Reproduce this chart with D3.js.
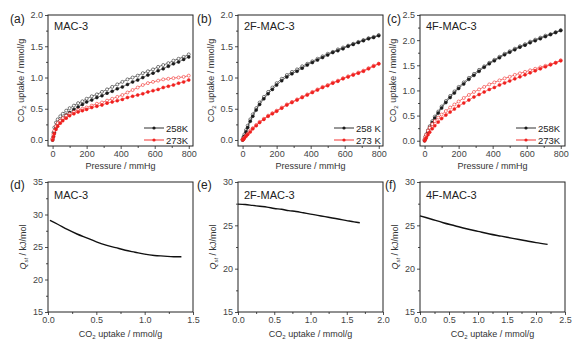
<!DOCTYPE html>
<html><head><meta charset="utf-8">
<script src="https://cdn.jsdelivr.net/npm/d3@7"></script>
<style>
html,body{margin:0;padding:0;background:#fff;}
svg{display:block;font-family:"Liberation Sans",Arial,sans-serif;}
</style></head>
<body>
<svg id="chart" width="582" height="346"></svg>
<script>
// ---------- DATA ----------
const pressure = [0,5,10,20,30,45,60,80,100,125,150,175,200,230,260,290,320,350,380,410,440,470,500,530,560,590,620,650,680,710,740,770,800];

const mac3_258_ads = [0.00,0.06,0.12,0.20,0.26,0.31,0.35,0.40,0.44,0.49,0.53,0.57,0.61,0.64,0.68,0.71,0.75,0.78,0.82,0.85,0.89,0.93,0.96,1.00,1.04,1.07,1.11,1.14,1.18,1.22,1.25,1.29,1.33];
const mac3_258_des = [0.02,0.12,0.20,0.28,0.33,0.38,0.42,0.47,0.51,0.55,0.59,0.62,0.66,0.70,0.73,0.77,0.81,0.85,0.89,0.93,0.97,1.00,1.03,1.07,1.10,1.13,1.17,1.20,1.23,1.27,1.30,1.33,1.37];
const mac3_273_ads = [0.00,0.05,0.10,0.17,0.22,0.27,0.31,0.35,0.39,0.42,0.45,0.47,0.49,0.52,0.54,0.56,0.59,0.61,0.63,0.65,0.68,0.70,0.72,0.74,0.77,0.79,0.81,0.84,0.86,0.88,0.91,0.93,0.96];
const mac3_273_des = [0.02,0.09,0.15,0.22,0.27,0.31,0.35,0.39,0.42,0.45,0.48,0.50,0.52,0.55,0.58,0.60,0.63,0.66,0.69,0.72,0.76,0.80,0.84,0.88,0.91,0.93,0.95,0.97,0.98,0.99,1.00,1.01,1.03];

const f2_258_ads = [0.00,0.03,0.06,0.13,0.20,0.30,0.38,0.48,0.57,0.66,0.74,0.81,0.88,0.95,1.01,1.06,1.10,1.15,1.20,1.24,1.28,1.32,1.36,1.40,1.43,1.46,1.50,1.53,1.56,1.59,1.62,1.64,1.67];
const f2_258_des = [0.01,0.05,0.09,0.16,0.23,0.33,0.41,0.51,0.60,0.69,0.77,0.84,0.91,0.98,1.04,1.09,1.13,1.18,1.22,1.26,1.30,1.34,1.38,1.41,1.45,1.48,1.51,1.54,1.57,1.60,1.63,1.65,1.68];
const f2_273_ads = [0.00,0.01,0.03,0.06,0.09,0.13,0.18,0.23,0.28,0.33,0.38,0.42,0.46,0.51,0.56,0.60,0.64,0.68,0.72,0.76,0.80,0.84,0.87,0.91,0.94,0.98,1.01,1.04,1.07,1.10,1.14,1.18,1.22];
const f2_273_des = [0.01,0.02,0.04,0.07,0.10,0.15,0.19,0.24,0.29,0.34,0.39,0.43,0.47,0.52,0.57,0.61,0.65,0.69,0.73,0.77,0.81,0.85,0.88,0.92,0.95,0.99,1.02,1.05,1.08,1.11,1.15,1.19,1.22];

const f4_258_ads = [0.00,0.05,0.10,0.18,0.26,0.36,0.45,0.55,0.65,0.76,0.86,0.95,1.04,1.13,1.22,1.30,1.38,1.46,1.53,1.59,1.65,1.71,1.76,1.81,1.86,1.90,1.95,1.99,2.03,2.07,2.11,2.15,2.19];
const f4_258_des = [0.02,0.08,0.13,0.21,0.29,0.39,0.48,0.58,0.68,0.79,0.89,0.98,1.07,1.16,1.25,1.33,1.41,1.48,1.55,1.61,1.67,1.73,1.78,1.83,1.88,1.92,1.97,2.01,2.05,2.09,2.12,2.16,2.20];
const f4_273_ads = [0.00,0.03,0.06,0.12,0.17,0.24,0.30,0.37,0.44,0.51,0.57,0.63,0.69,0.75,0.81,0.87,0.92,0.97,1.02,1.06,1.11,1.15,1.19,1.23,1.27,1.31,1.35,1.39,1.43,1.47,1.51,1.55,1.59];
const f4_273_des = [0.03,0.08,0.12,0.20,0.26,0.33,0.39,0.46,0.52,0.59,0.66,0.72,0.78,0.85,0.91,0.97,1.02,1.07,1.12,1.16,1.20,1.24,1.27,1.31,1.34,1.37,1.40,1.43,1.46,1.49,1.52,1.55,1.60];

const qst_mac3_x = [0.02,0.1,0.2,0.3,0.4,0.5,0.6,0.7,0.8,0.9,1.0,1.1,1.2,1.3,1.38];
const qst_mac3_y = [29.1,28.5,27.7,27.0,26.4,25.8,25.3,24.9,24.5,24.2,23.9,23.7,23.6,23.5,23.5];
const qst_f2_x = [0,0.1,0.2,0.3,0.4,0.5,0.6,0.7,0.8,0.9,1.0,1.1,1.2,1.3,1.4,1.5,1.6,1.68];
const qst_f2_y = [27.45,27.4,27.3,27.2,27.1,26.95,26.85,26.7,26.6,26.45,26.3,26.15,26.0,25.85,25.7,25.55,25.4,25.3];
const qst_f4_x = [0,0.2,0.4,0.6,0.8,1.0,1.2,1.4,1.6,1.8,2.0,2.2];
const qst_f4_y = [26.1,25.7,25.3,24.95,24.6,24.3,24.0,23.75,23.5,23.25,23.0,22.8];

const panelLabels = ["(a)","(b)","(c)","(d)","(e)","(f)"];
const sampleNames = ["MAC-3","2F-MAC-3","4F-MAC-3"];
const legendTexts = [["258K","273K"],["258 K","273 K"],["258K","273K"]];
const isoYMax = [2.0, 2.0, 2.5];
const isoYTicks = [[0,0.5,1.0,1.5,2.0],[0,0.5,1.0,1.5,2.0],[0,0.5,1.0,1.5,2.0,2.5]];
const isoXTicks = [0,200,400,600,800];
const qXMax = [1.5, 2.0, 2.5];
const qYRange = [[15,35],[15,30],[15,30]];

// ---------- LAYOUT ----------
const svg = d3.select("#chart");
const lefts = [48, 238, 420];
const W = 145;
const topRow = {y:15, h:131};
const botRow = {y:182, h:130};
const BLACK = "#1a1a1a", RED = "#f0201e", TXT = "#333";

function yTitle(g, x, y, isQ){
  const t = g.append("text").attr("transform",`translate(${x},${y}) rotate(-90)`)
    .attr("text-anchor","middle").attr("font-size",9).attr("fill",TXT);
  if(isQ){
    t.append("tspan").attr("font-style","italic").text("Q");
    t.append("tspan").attr("font-style","italic").attr("font-size",6).attr("dy",2).text("st");
    t.append("tspan").attr("dy",-2).text(" / kJ/mol");
  } else {
    t.append("tspan").text("CO");
    t.append("tspan").attr("font-size",6).attr("dy",2).text("2");
    t.append("tspan").attr("dy",-2).text(" uptake / mmol/g");
  }
}
function xTitleCO2(g, x, y){
  const t = g.append("text").attr("x",x).attr("y",y).attr("text-anchor","middle").attr("font-size",9).attr("fill",TXT);
  t.append("tspan").text("CO");
  t.append("tspan").attr("font-size",6).attr("dy",2).text("2");
  t.append("tspan").attr("dy",-2).text(" uptake / mmol/g");
}

function drawAxes(g, x, y, h, xTicks, yTicks, xMinor, yMinor, xFmt, yFmt){
  g.append("g").attr("transform",`translate(0,${h})`)
    .call(d3.axisBottom(x).tickValues(xTicks).tickSize(3).tickPadding(2).tickFormat(xFmt));
  g.append("g").attr("transform",`translate(0,${h})`)
    .call(d3.axisBottom(x).tickValues(xMinor).tickSize(2).tickFormat(""));
  g.append("g").call(d3.axisLeft(y).tickValues(yTicks).tickSize(3).tickPadding(2).tickFormat(yFmt));
  g.append("g").call(d3.axisLeft(y).tickValues(yMinor).tickSize(2).tickFormat(""));
  g.selectAll(".domain").remove();
  g.selectAll(".tick line").attr("stroke","#222").attr("stroke-width",0.8);
  g.selectAll(".tick text").attr("font-size",9).attr("fill","#444").attr("font-family","Liberation Sans, Arial, sans-serif");
  g.append("rect").attr("x",0).attr("y",0).attr("width",x.range()[1]).attr("height",h)
    .attr("fill","none").attr("stroke","#222").attr("stroke-width",1);
}

const isoSets = [
  [mac3_258_ads, mac3_258_des, mac3_273_ads, mac3_273_des],
  [f2_258_ads, f2_258_des, f2_273_ads, f2_273_des],
  [f4_258_ads, f4_258_des, f4_273_ads, f4_273_des]
];

// ---------- TOP ROW: isotherms ----------
isoSets.forEach((sets, i) => {
  const g = svg.append("g").attr("transform",`translate(${lefts[i]},${topRow.y})`);
  const h = topRow.h;
  const x = d3.scaleLinear().domain([-27, 825]).range([0, W]);
  const y = d3.scaleLinear().domain([i===2 ? -0.105 : -0.096, isoYMax[i]]).range([h, 0]);
  const yMinor = d3.range(0.25, isoYMax[i], 0.5);
  drawAxes(g, x, y, h, isoXTicks, isoYTicks[i], [100,300,500,700], yMinor, d3.format("d"), d3.format(".1f"));

  const line = d3.line().x((d,k)=>x(pressure[k])).y(d=>y(d));
  const spec = [
    {data:sets[1], c:BLACK, fill:false},
    {data:sets[0], c:BLACK, fill:true},
    {data:sets[3], c:RED, fill:false},
    {data:sets[2], c:RED, fill:true}
  ];
  spec.forEach(s => {
    g.append("path").attr("d", line(s.data)).attr("fill","none").attr("stroke",s.c).attr("stroke-width",0.6);
    g.selectAll(null).data(s.data).enter().append("circle")
      .attr("cx",(d,k)=>x(pressure[k])).attr("cy",d=>y(d)).attr("r",1.5)
      .attr("fill", s.fill ? s.c : "#fff").attr("stroke",s.c).attr("stroke-width",0.55);
  });

  g.append("text").attr("x",6).attr("y",15).attr("font-size",11).attr("fill","#222").text(sampleNames[i]);
  [[BLACK,113],[RED,125]].forEach(([c,ly],j)=>{
    g.append("line").attr("x1",96).attr("x2",116).attr("y1",ly).attr("y2",ly).attr("stroke",c).attr("stroke-width",0.9);
    g.append("circle").attr("cx",106).attr("cy",ly).attr("r",1.6).attr("fill",c);
    g.append("text").attr("x",118).attr("y",ly+3.5).attr("font-size",9.5).attr("fill","#222").text(legendTexts[i][j]);
  });
  g.append("text").attr("x",W/2).attr("y",h+23).attr("text-anchor","middle").attr("font-size",9).attr("fill",TXT).text("Pressure / mmHg");
  yTitle(g, -24, h/2, false);
  svg.append("text").attr("x",lefts[i] - (i===0?38:i===1?41:33)).attr("y",topRow.y+8).attr("font-size",12).attr("fill","#222").text(panelLabels[i]);
});

// ---------- BOTTOM ROW: Qst ----------
const qSets = [[qst_mac3_x, qst_mac3_y],[qst_f2_x, qst_f2_y],[qst_f4_x, qst_f4_y]];
qSets.forEach(([qx,qy], i) => {
  const g = svg.append("g").attr("transform",`translate(${lefts[i]},${botRow.y})`);
  const h = botRow.h;
  const x = d3.scaleLinear().domain([0, qXMax[i]]).range([0, W]);
  const y = d3.scaleLinear().domain(qYRange[i]).range([h, 0]);
  const xT = d3.range(0, qXMax[i] + 0.001, 0.5);
  const xM = d3.range(0.25, qXMax[i], 0.5);
  const yT = d3.range(qYRange[i][0], qYRange[i][1] + 0.001, 5);
  const yM = d3.range(qYRange[i][0] + 2.5, qYRange[i][1], 5);
  drawAxes(g, x, y, h, xT, yT, xM, yM, d3.format(".1f"), d3.format("d"));
  const line = d3.line().curve(d3.curveMonotoneX).x((d,k)=>x(qx[k])).y(d=>y(d));
  g.append("path").attr("d", line(qy)).attr("fill","none").attr("stroke","#111").attr("stroke-width",1.4);
  g.append("text").attr("x",6).attr("y",17).attr("font-size",11).attr("fill","#222").text(sampleNames[i]);
  xTitleCO2(g, W/2, h+25);
  yTitle(g, -22, h/2, true);
  svg.append("text").attr("x",lefts[i] - (i===0?38:i===1?41:35)).attr("y",botRow.y+7).attr("font-size",12).attr("fill","#222").text(panelLabels[i+3]);
});
</script>
</body></html>
